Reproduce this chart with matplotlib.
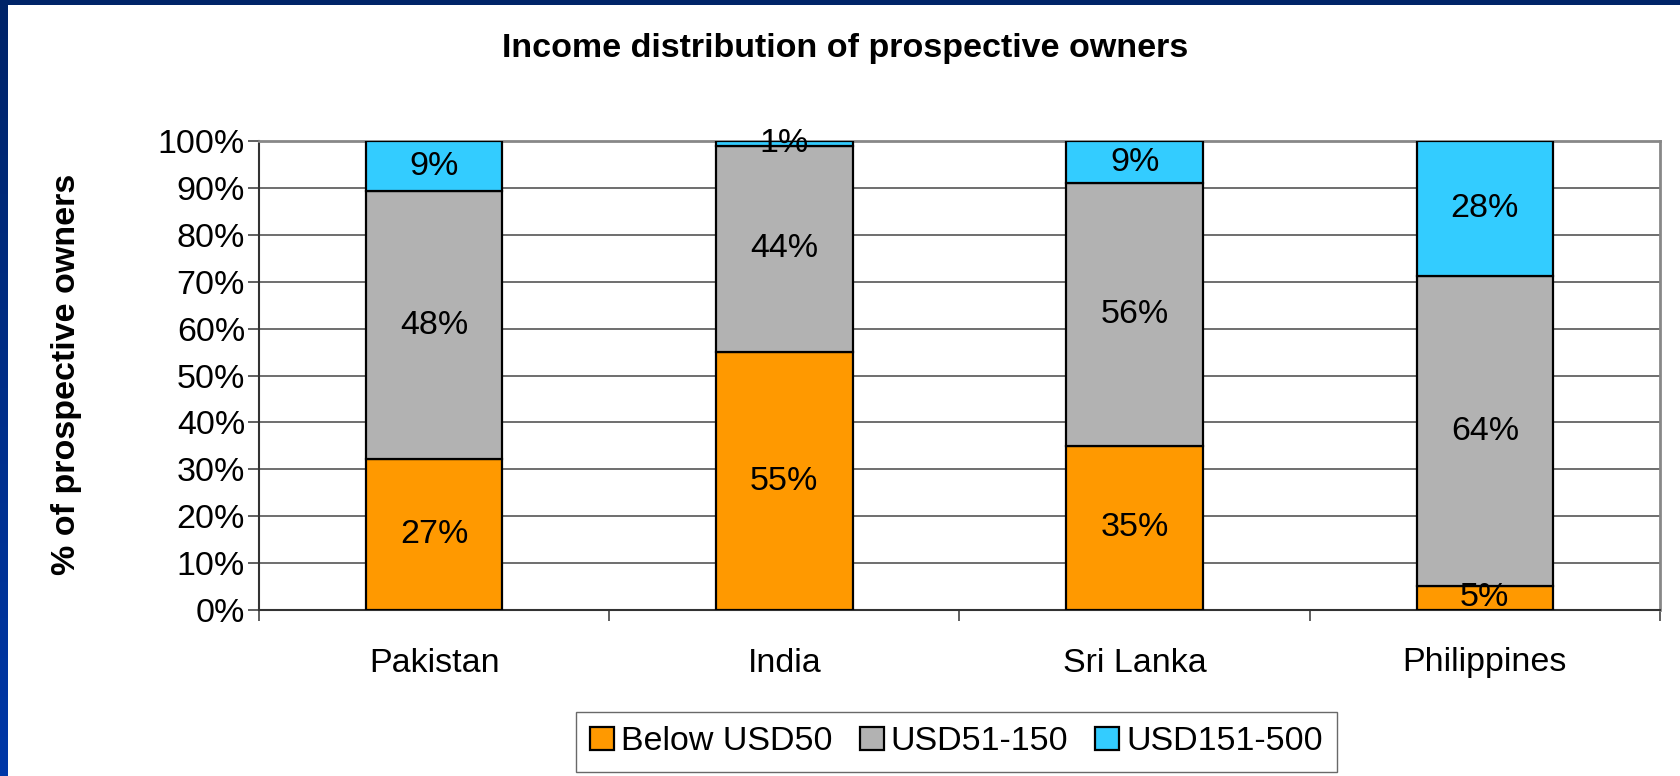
import numpy as np
import matplotlib.pyplot as plt
from matplotlib.ticker import FixedLocator, PercentFormatter

plt.rcParams['font.family'] = ['Liberation Sans', 'DejaVu Sans']

countries = ['Pakistan', 'India', 'Sri Lanka', 'Philippines']
income_bands = ['Below USD50', 'USD51-150', 'USD151-500']
# survey shares per country, in percent (rows follow income_bands)
below_50 = [27, 55, 35, 5]
usd_51_150 = [48, 44, 56, 64]
usd_151_500 = [9, 1, 9, 28]
band_colors = ['#FF9900', '#B2B2B2', '#33CCFF']

W, H = 1681, 776
fig = plt.figure(figsize=(W / 100, H / 100), dpi=100)

# slide frame: blue gradient strip down the left edge and across the top
frame = fig.add_axes([0, 0, 1, 1], zorder=-1)
frame.set_xlim(0, W)
frame.set_ylim(H, 0)
frame.axis('off')
grad = np.linspace(0, 1, 256)[:, None]
frame.imshow(grad, cmap=plt.matplotlib.colors.LinearSegmentedColormap.from_list(
    'frame', ['#002468', '#0038A8']), extent=[0, 8, H, 0], aspect='auto')
frame.add_patch(plt.Rectangle((0, 0), W, 5, color='#002468', lw=0))

ax = fig.add_axes([259 / W, 1 - 610 / H, 1401 / W, 469 / H])

data = np.array([below_50, usd_51_150, usd_151_500], dtype=float)
shares = data / data.sum(axis=0) * 100
x = np.arange(len(countries))
bottom = np.zeros(len(countries))
for band, vals, pct, color in zip(income_bands, data, shares, band_colors):
    ax.bar(x, pct, bottom=bottom, width=0.39, color=color,
           edgecolor='black', linewidth=1.6, label=band, zorder=3)
    for xi, b, p, v in zip(x, bottom, pct, vals):
        ax.text(xi, b + p / 2, f'{v:.0f}%', ha='center', va='center',
                fontsize=24.5, zorder=4)
    bottom += pct

ax.set_xlim(-0.5, len(countries) - 0.5)
ax.set_ylim(0, 100)
ax.yaxis.set_major_locator(FixedLocator(np.arange(0, 101, 10)))
ax.yaxis.set_major_formatter(PercentFormatter(decimals=0))
ax.grid(axis='y', color='#555555', linewidth=1.2, zorder=0)

ax.set_xticks(x)
ax.set_xticklabels(countries)
ax.set_xticks(np.arange(-0.5, len(countries)), minor=True)
ax.tick_params(axis='x', which='major', length=0, pad=27, labelsize=24.5)
ax.tick_params(axis='x', which='minor', length=8, width=1.2, color='#444444')
ax.tick_params(axis='y', length=8, width=1.2, color='#444444', pad=2,
               labelsize=24.5)

for side in ['top', 'right']:
    ax.spines[side].set_color('#888888')
    ax.spines[side].set_linewidth(2)
for side in ['left', 'bottom']:
    ax.spines[side].set_color('#333333')
    ax.spines[side].set_linewidth(1.5)

fig.text(0.0396, 0.517, '% of prospective owners', rotation=90,
         ha='center', va='center', fontsize=24.5, fontweight='bold')
fig.text(0.503, 0.937, 'Income distribution of prospective owners',
         ha='center', va='center', fontsize=24.5, fontweight='bold')

fig.legend(loc='center', bbox_to_anchor=(0.569, 0.044), ncol=3,
           fontsize=24.5, frameon=True, fancybox=False, edgecolor='#444444',
           handlelength=0.7, handleheight=0.7, handletextpad=0.2,
           columnspacing=0.8, borderpad=0.42)

fig.savefig('out.png', dpi=100)
